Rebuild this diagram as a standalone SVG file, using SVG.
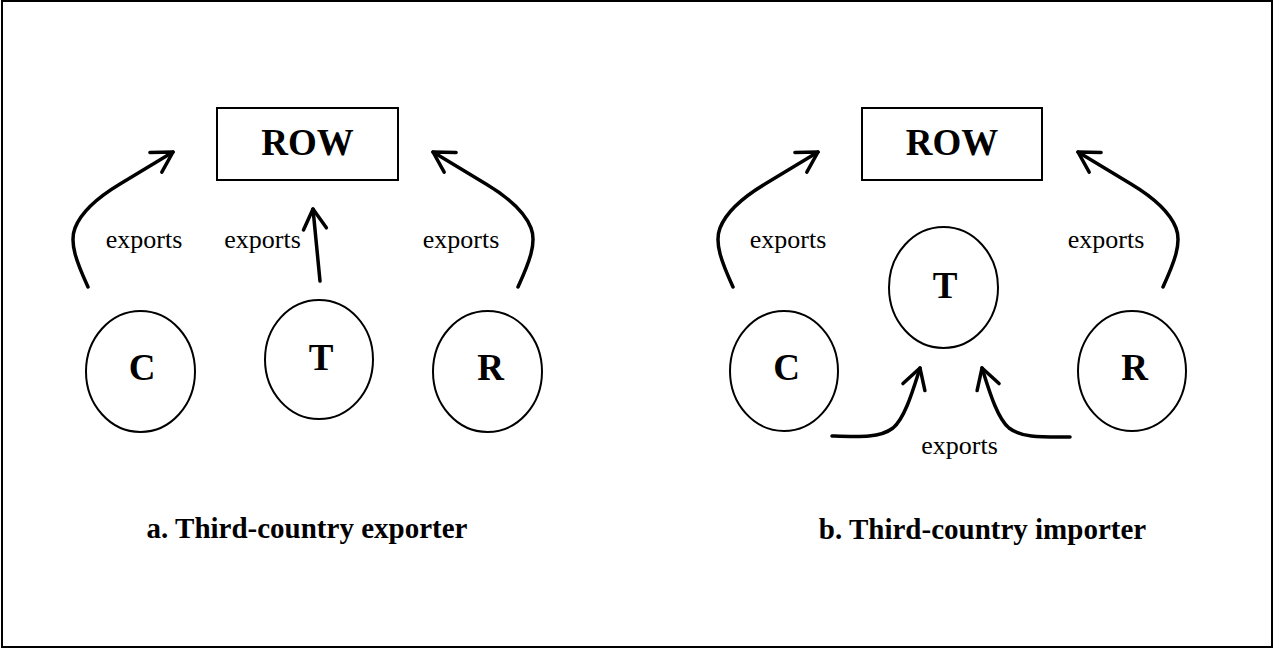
<svg xmlns="http://www.w3.org/2000/svg" width="1274" height="650" viewBox="0 0 1274 650">
  <style>
    .frame { fill: #fff; stroke: #000; stroke-width: 2; }
    .box { fill: #fff; stroke: #000; stroke-width: 2; }
    .node { fill: #fff; stroke: #000; stroke-width: 2; }
    .big { font-family: "Liberation Serif", "Times New Roman", serif; font-weight: bold; font-size: 37px; text-anchor: middle; fill: #000; }
    .lbl { font-family: "Liberation Serif", "Times New Roman", serif; font-size: 26px; text-anchor: middle; fill: #000; }
    .title { font-family: "Liberation Serif", "Times New Roman", serif; font-weight: bold; font-size: 29px; text-anchor: middle; fill: #000; }
    .flow { fill: none; stroke: #000; stroke-width: 3.5; stroke-linecap: round; stroke-linejoin: round; marker-end: url(#head); }
  </style>
  <defs>
    <marker id="head" markerUnits="userSpaceOnUse" viewBox="-24 -15 28 30" refX="0" refY="0" markerWidth="28" markerHeight="30" orient="auto">
      <path d="M-20,-11.5 L0,0 L-20,11.5" fill="none" stroke="#000" stroke-width="3.5" stroke-linecap="round" stroke-linejoin="round"/>
    </marker>
  </defs>

  <rect class="frame" x="2" y="1" width="1270" height="646"/>

  <!-- a. third-country exporter -->
  <g id="a-row">
    <rect class="box" x="217" y="108" width="181" height="72"/>
    <text class="big" x="307.5" y="155">ROW</text>
  </g>
  <g id="a-c">
    <ellipse class="node" cx="140.5" cy="371.5" rx="54.5" ry="60.5"/>
    <text class="big" x="142" y="380">C</text>
  </g>
  <g id="a-t">
    <ellipse class="node" cx="319" cy="359.5" rx="54" ry="59.5"/>
    <text class="big" x="321" y="370">T</text>
  </g>
  <g id="a-r">
    <ellipse class="node" cx="487.5" cy="371.5" rx="54.5" ry="60.5"/>
    <text class="big" x="490.5" y="380">R</text>
  </g>
  <text class="title" x="307" y="538">a. Third-country exporter</text>

  <!-- b. third-country importer -->
  <g id="b-row">
    <rect class="box" x="862" y="108" width="180" height="72"/>
    <text class="big" x="952" y="155">ROW</text>
  </g>
  <g id="b-t">
    <ellipse class="node" cx="943.5" cy="287.5" rx="54.5" ry="60.5"/>
    <text class="big" x="945" y="298">T</text>
  </g>
  <g id="b-c">
    <ellipse class="node" cx="784" cy="371" rx="54" ry="60"/>
    <text class="big" x="786.5" y="380">C</text>
  </g>
  <g id="b-r">
    <ellipse class="node" cx="1132" cy="371" rx="54" ry="60"/>
    <text class="big" x="1134.5" y="380">R</text>
  </g>
  <text class="title" x="982.5" y="539">b. Third-country importer</text>

  <!-- export flows -->
  <g id="connectors">
    <path class="flow" d="M88,287 C77,263 69,243 75,228 C82,210 100,196 120,184 L173,152"/>
    <path class="flow" d="M320,281 L313,209"/>
    <path class="flow" d="M518,287 C529,263 537,243 531,228 C524,210 506,196 486,184 L433,152"/>
    <text class="lbl" x="144" y="248">exports</text>
    <text class="lbl" x="262.5" y="248">exports</text>
    <text class="lbl" x="461" y="248">exports</text>

    <path class="flow" d="M733,287 C722,263 714,243 720,228 C727,210 745,196 765,184 L818,152"/>
    <path class="flow" d="M1163,287 C1174,263 1182,243 1176,228 C1169,210 1151,196 1131,184 L1078,152"/>
    <path class="flow" d="M832,436 C860,437 880,438 893,428 C905,418 913,390 920,368"/>
    <path class="flow" d="M1070,437 C1042,437 1022,438 1009,428 C997,418 989,390 982,368"/>
    <text class="lbl" x="788" y="248">exports</text>
    <text class="lbl" x="1106" y="248">exports</text>
    <text class="lbl" x="959.5" y="454">exports</text>
  </g>
</svg>
